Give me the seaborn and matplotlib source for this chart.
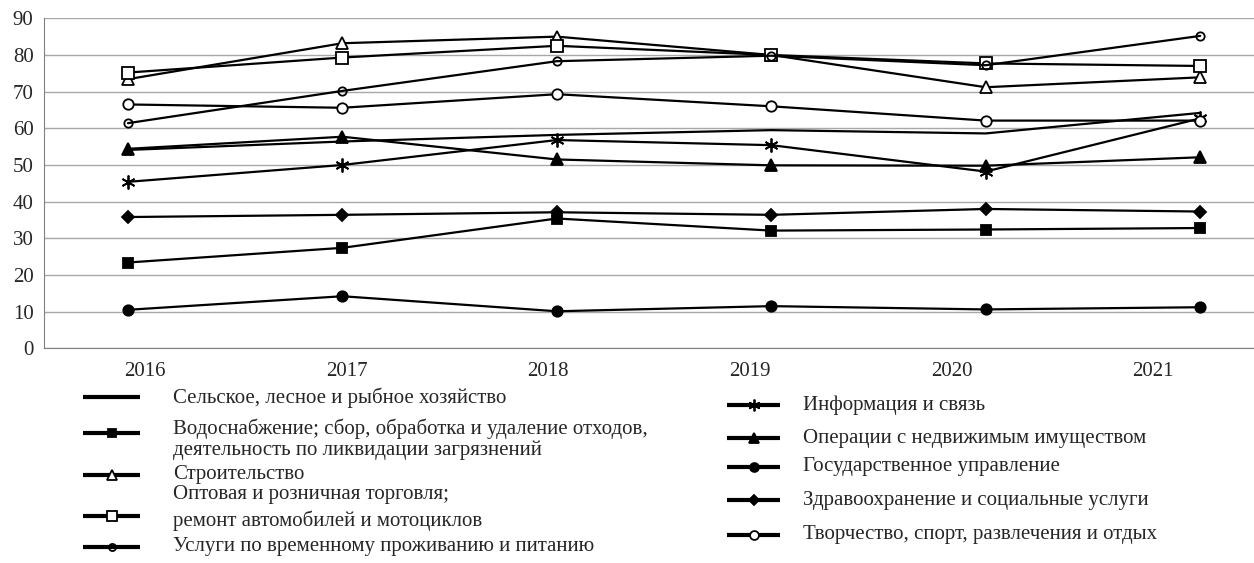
import numpy as np
import pandas as pd
import seaborn as sns
import matplotlib.pyplot as plt

# Годы и значения по отраслям
years = ["2016", "2017", "2018", "2019", "2020", "2021"]

agri = [54.1, 56.4, 58.2, 59.5, 58.6, 64.2]
water = [23.4, 27.4, 35.4, 32.1, 32.4, 32.8]
construction = [73.4, 83.2, 85.0, 80.0, 71.2, 73.9]
trade = [75.2, 79.3, 82.5, 80.0, 77.7, 77.0]
hotels = [61.4, 70.2, 78.3, 79.8, 77.2, 85.2]
info = [45.4, 50.0, 56.8, 55.4, 48.2, 62.7]
realty = [54.4, 57.7, 51.5, 49.9, 49.8, 52.1]
govt = [10.5, 14.2, 10.1, 11.5, 10.6, 11.2]
health = [35.8, 36.4, 37.1, 36.4, 38.0, 37.3]
arts = [66.5, 65.6, 69.3, 66.0, 62.1, 62.1]

names = [
    "Сельское, лесное и рыбное хозяйство",
    "Водоснабжение; сбор, обработка и удаление отходов,\nдеятельность по ликвидации загрязнений",
    "Строительство",
    "Оптовая и розничная торговля;\nремонт автомобилей и мотоциклов",
    "Услуги по временному проживанию и питанию",
    "Информация и связь",
    "Операции с недвижимым имуществом",
    "Государственное управление",
    "Здравоохранение и социальные услуги",
    "Творчество, спорт, развлечения и отдых",
]
values = [agri, water, construction, trade, hotels, info, realty, govt, health, arts]

# стиль маркеров: (marker, size, facecolor)
styles = [
    (None, 0, "black"),
    ("s", 7, "black"),
    ("^", 9, "white"),
    ("s", 8, "white"),
    ("o", 6, "none"),
    ((6, 2, 0), 10, "black"),
    ("^", 9, "black"),
    ("o", 7.5, "black"),
    ("D", 6.5, "black"),
    ("o", 7.5, "white"),
]

sns.set_style("white")
plt.rcParams["font.family"] = ["Liberation Serif", "DejaVu Serif"]
FS = 15

fig = plt.figure(figsize=(12.54, 5.63), dpi=100)
ax = fig.add_axes([44 / 1254, 1 - 348.3 / 563, 1 - 44 / 1254, (348.3 - 18.3) / 563])

x = np.arange(len(years))
for name, vals, (mk, ms, fc) in zip(names, values, styles):
    sns.lineplot(x=x, y=vals, ax=ax, color="black", linewidth=1.6,
                 marker=mk, markersize=ms, markerfacecolor=fc,
                 markeredgecolor="black", markeredgewidth=1.3, legend=False)

# Ось X: подписи категорий и деления между ними
step = 0.9404
start = -0.3914
ax.set_xlim(start, 5.247)
ax.set_xticks([start + step * (k + 0.5) for k in range(len(years))])
ax.set_xticklabels(years, fontsize=FS)
ax.set_xticks([start + step * k for k in range(len(years) + 1)], minor=True)
ax.tick_params(axis="x", which="major", length=0, pad=10)
ax.tick_params(axis="x", which="minor", length=5, color="#808080", width=1)

ax.set_ylim(0, 90)
ax.set_yticks(range(0, 91, 10))
ax.tick_params(axis="y", length=4.5, color="#a0a0a0", width=1, labelsize=FS, pad=3)
ax.yaxis.grid(True, color="#a8a8a8", linewidth=1)
ax.set_axisbelow(True)

for s in ["top", "right"]:
    ax.spines[s].set_visible(False)
ax.spines["left"].set_color("#808080")
ax.spines["bottom"].set_color("#808080")
ax.set_xlabel("")
ax.set_ylabel("")

# Легенда в две колонки (пиксельная разметка фигуры)
lax = fig.add_axes([0, 0, 1, 1])
lax.set_xlim(0, 1254)
lax.set_ylim(563, 0)
lax.axis("off")

columns = [
    dict(x0=83, x1=140, tx=173, rows=range(0, 5),
         hy=[397, 433, 475, 516, 547],
         ty=[[398], [429, 450], [474], [495, 521], [547]]),
    dict(x0=727, x1=780, tx=803, rows=range(5, 10),
         hy=[405, 438, 467, 500, 535],
         ty=[[405], [438], [467], [500], [535]]),
]
for col in columns:
    for j, i in enumerate(col["rows"]):
        mk, ms, fc = styles[i]
        y = col["hy"][j]
        lax.plot([col["x0"], col["x1"]], [y, y], color="black", linewidth=3,
                 solid_capstyle="butt")
        if mk is not None:
            lax.plot([(col["x0"] + col["x1"]) / 2], [y], linestyle="none",
                     marker=mk, markersize=ms * 0.85, markerfacecolor=fc,
                     markeredgecolor="black", markeredgewidth=1.3,
                     color="black")
        for line, ty in zip(names[i].split("\n"), col["ty"][j]):
            lax.text(col["tx"], ty, line, fontsize=FS, va="center", ha="left")

fig.savefig("out.png", dpi=100)
